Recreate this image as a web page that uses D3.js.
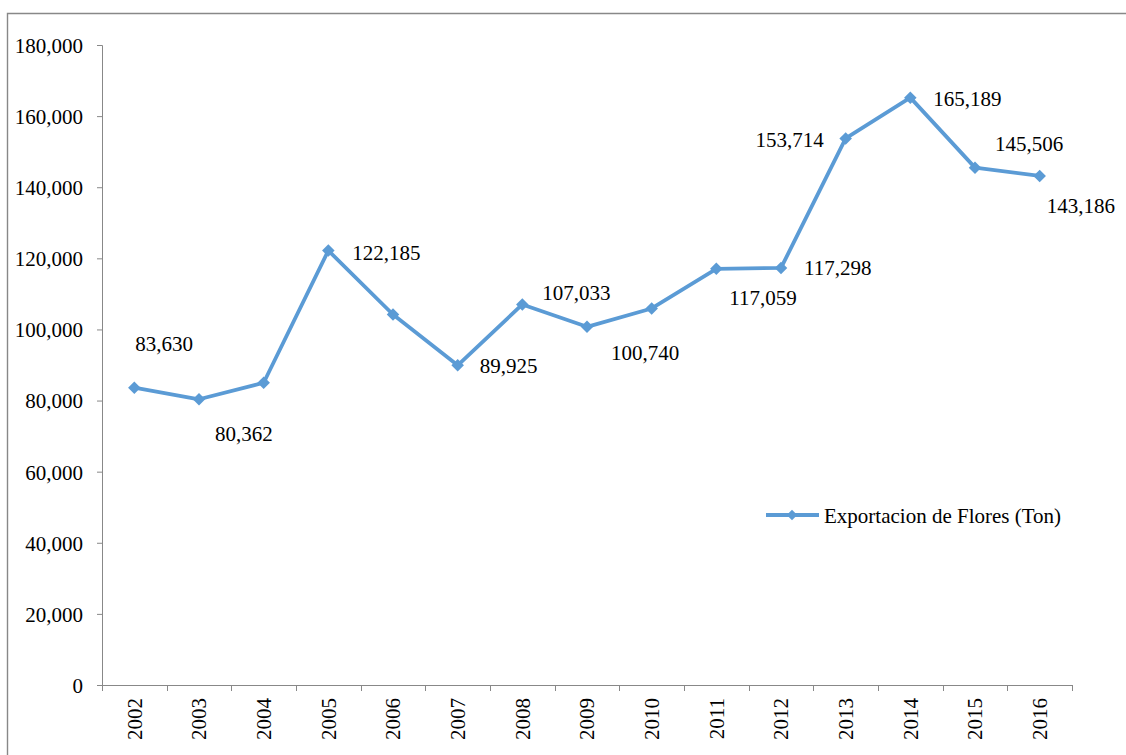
<!DOCTYPE html>
<html>
<head>
<meta charset="utf-8">
<script src="https://cdn.jsdelivr.net/npm/d3@7"></script>
<style>
  html, body { margin: 0; padding: 0; background: #fff; }
  svg { display: block; }
  svg text { font-family: "Liberation Serif", "Times New Roman", Tinos, Times, "DejaVu Serif", serif !important; fill: #000; }
</style>
</head>
<body>
<svg id="chart" width="1126" height="755"></svg>
<script>
// ---- data ----
const years = ["2002","2003","2004","2005","2006","2007","2008","2009","2010","2011","2012","2013","2014","2015","2016"];
const exportTons = [83630, 80362, 85000, 122185, 104200, 89925, 107033, 100740, 105900, 117059, 117298, 153714, 165189, 145506, 143186];
const labelText = ["83,630","80,362",null,"122,185",null,"89,925","107,033","100,740",null,"117,059","117,298","153,714","165,189","145,506","143,186"];
const yTicks = [0, 20000, 40000, 60000, 80000, 100000, 120000, 140000, 160000, 180000];
const seriesName = "Exportacion de Flores (Ton)";
// label placement offsets (style, px relative to point): [dx, dy, anchor]
const labelOffsets = [[1,-44,"start"],[16,34,"start"],null,[24,2,"start"],null,[22,0,"start"],[20,-12,"start"],[24,26,"start"],null,[13,29,"start"],[23,0,"start"],[-22,1,"end"],[23,1,"start"],[20,-24,"start"],[7,30,"start"]];

(function () {
// ---- layout ----
const svg = d3.select("#chart");
const mLeft = 102, mRight = 1072, mTop = 45, mBottom = 685;
const color = "#5B9BD5";
const axisColor = "#888888";
const fontSize = 21;
const fontFam = "'Liberation Serif', 'Times New Roman', Tinos, Times, 'DejaVu Serif', serif";

// frame
svg.append("path")
  .attr("d", `M7.5,760 L7.5,13.5 L1130,13.5`)
  .attr("fill", "none").attr("stroke", axisColor).attr("stroke-width", 1.4);

const x = d3.scaleBand().domain(years).range([mLeft, mRight]).padding(0);
const y = d3.scaleLinear().domain([0, 180000]).range([mBottom, mTop]);
const fmt = d3.format(",");

// y axis
const yAxis = svg.append("g").attr("transform", `translate(${mLeft},0)`)
  .call(d3.axisLeft(y).tickValues(yTicks).tickFormat(d => fmt(d)).tickSize(5).tickPadding(14));
yAxis.attr("font-family", fontFam).attr("font-size", fontSize);
yAxis.select(".domain").attr("stroke", axisColor).attr("stroke-width", 1);
yAxis.selectAll(".tick line").attr("stroke", axisColor);
yAxis.selectAll(".tick text").attr("font-size", fontSize).attr("fill", "#000").attr("dy", "0.35em");

// x axis (ticks at category boundaries)
const xg = svg.append("g").attr("transform", `translate(0,${mBottom})`).attr("font-family", fontFam);
xg.append("line").attr("x1", mLeft).attr("x2", mRight).attr("y1", 0.5).attr("y2", 0.5)
  .attr("stroke", axisColor).attr("stroke-width", 1);
const bounds = years.map(d => x(d)).concat([x(years[years.length-1]) + x.bandwidth()]);
xg.selectAll("line.tk").data(bounds).enter().append("line").attr("class","tk")
  .attr("x1", d => Math.round(d) + 0.5).attr("x2", d => Math.round(d) + 0.5)
  .attr("y1", 0).attr("y2", 6).attr("stroke", axisColor);
xg.selectAll("text").data(years).enter().append("text")
  .attr("transform", d => `translate(${x(d) + x.bandwidth()/2},13) rotate(-90)`)
  .attr("text-anchor", "end").attr("dy", "0.35em")
  .attr("font-size", fontSize).text(d => d);

// line
const pts = years.map((yr, i) => ({ yr, v: exportTons[i], i }));
const cx = d => x(d.yr) + x.bandwidth()/2;
svg.append("path").datum(pts)
  .attr("d", d3.line().x(cx).y(d => y(d.v)))
  .attr("fill", "none").attr("stroke", color).attr("stroke-width", 3.8)
  .attr("stroke-linejoin", "round");

// markers
const diamond = d3.symbol().type(d3.symbolDiamond2).size(100);
svg.selectAll("path.mk").data(pts).enter().append("path").attr("class","mk")
  .attr("d", diamond)
  .attr("transform", d => `translate(${cx(d)},${y(d.v)})`)
  .attr("fill", color);

// data labels
svg.append("g").attr("font-family", fontFam)
  .selectAll("text.lbl").data(pts.filter(d => labelText[d.i])).enter().append("text").attr("class","lbl")
  .attr("x", d => cx(d) + labelOffsets[d.i][0])
  .attr("y", d => y(d.v) + labelOffsets[d.i][1])
  .attr("text-anchor", d => labelOffsets[d.i][2])
  .attr("dy", "0.35em")
  .attr("font-size", fontSize)
  .text(d => labelText[d.i]);

// legend
const lg = svg.append("g").attr("transform", "translate(766,515)").attr("font-family", fontFam);
lg.append("line").attr("x1", 0).attr("x2", 53).attr("y1", 0).attr("y2", 0)
  .attr("stroke", color).attr("stroke-width", 3.8);
lg.append("path").attr("d", d3.symbol().type(d3.symbolDiamond2).size(70)).attr("transform", "translate(26,0)").attr("fill", color);
lg.append("text").attr("x", 58).attr("y", 1).attr("dy", "0.35em").attr("font-size", fontSize).text(seriesName);
})();
</script>
</body>
</html>
